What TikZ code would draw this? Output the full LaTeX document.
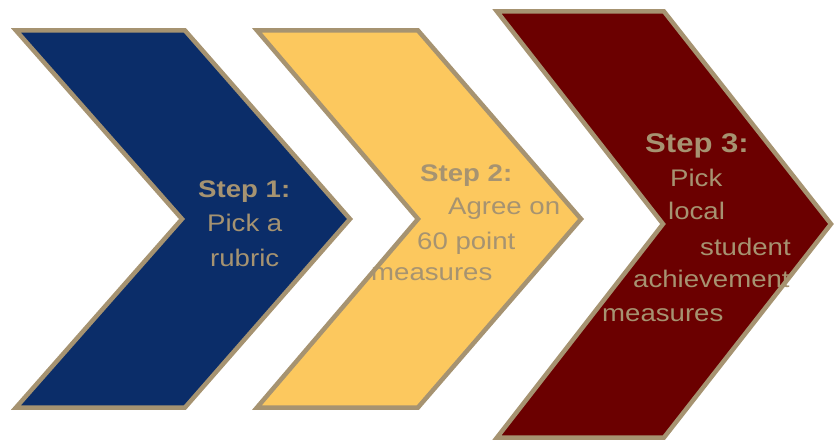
\documentclass[tikz,border=0pt]{standalone}
\usepackage{fontspec}
\setmainfont[FakeStretch=1.15]{Liberation Sans}
\definecolor{navy}{HTML}{0B2D69}
\definecolor{gold}{HTML}{FCC85E}
\definecolor{maroon}{HTML}{6B0000}
\definecolor{tan}{HTML}{A69371}
\begin{document}
\begin{tikzpicture}[x=1pt, y=-1pt,
	chev/.style={draw=tan, line width=4.5pt, line join=miter},
	steptitle/.style={anchor=base west, inner sep=0pt, text=tan, font=\fontsize{24}{28}\selectfont\bfseries},
	steptext/.style={anchor=base west, inner sep=0pt, text=tan, font=\fontsize{24}{28}\selectfont}]
	\useasboundingbox (0,0) rectangle (835,443);
	% chevrons
	\filldraw[chev, fill=navy] (16,30.5) -- (185,30.5) -- (350,219) -- (185,407.5) -- (16,407.5) -- (182,219) -- cycle;
	\filldraw[chev, fill=gold] (257,30.5) -- (418,30.5) -- (581,219) -- (418,407.5) -- (257,407.5) -- (418,219) -- cycle;
	\filldraw[chev, fill=maroon] (497,11.5) -- (664,11.5) -- (831,224) -- (664,437.5) -- (497,437.5) -- (663,224) -- cycle;
	% step 1
	\node[steptitle] (s1) at (198,198) {Step 1:};
	\node[steptext] (s1a) at (207,232) {Pick a};
	\node[steptext] (s1b) at (210,267) {rubric};
	% step 2
	\node[steptitle] (s2) at (420,182) {Step 2:};
	\node[steptext] (s2a) at (448,215) {Agree on};
	\node[steptext] (s2b) at (417,250) {60 point};
	\node[steptext] (s2c) at (371,281) {measures};
	% step 3
	\node[steptitle, font=\fontsize{27}{30}\selectfont\bfseries] (s3) at (645,153) {Step 3:};
	\node[steptext] (s3a) at (670,187) {Pick};
	\node[steptext] (s3b) at (668,220) {local};
	\node[steptext] (s3c) at (700,256) {student};
	\node[steptext] (s3d) at (633,288) {achievement};
	\node[steptext] (s3e) at (602,322) {measures};
\end{tikzpicture}
\end{document}
